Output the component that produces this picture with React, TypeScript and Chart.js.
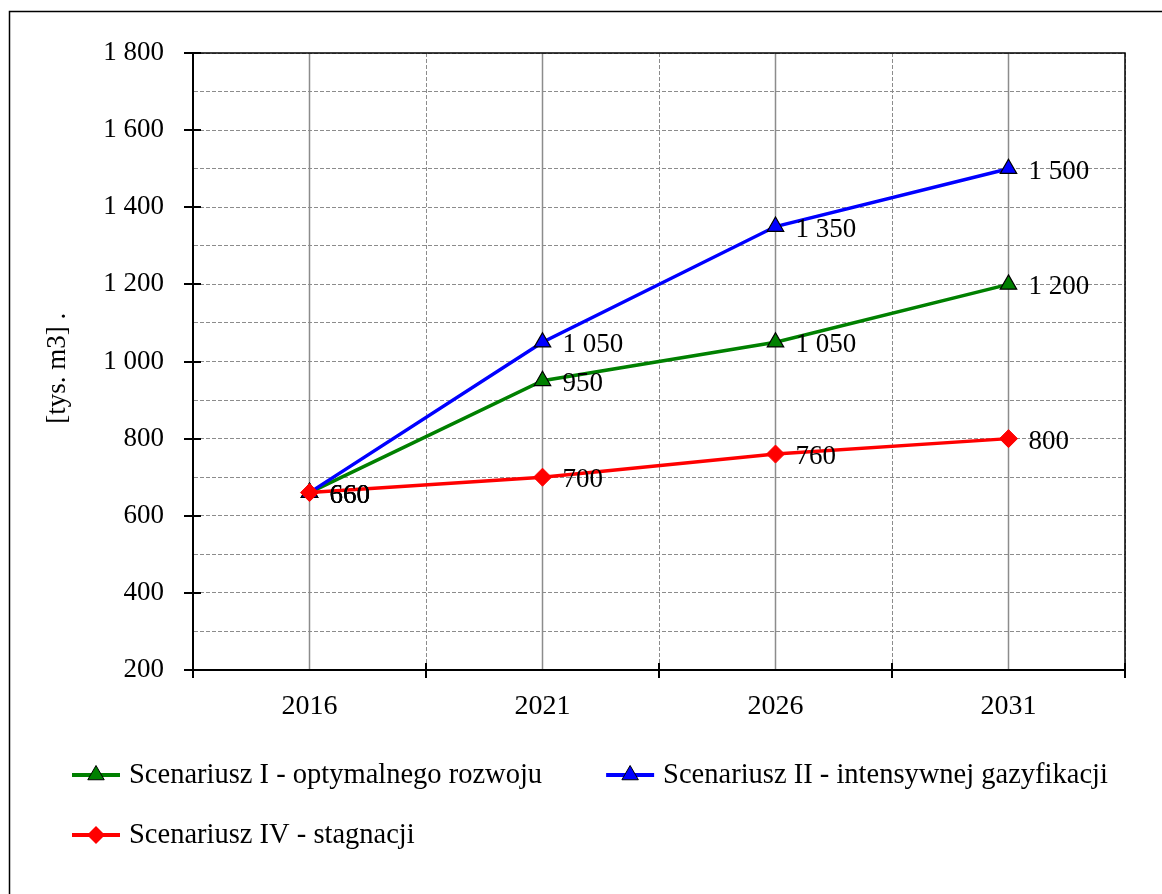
import React, { useEffect, useRef } from 'react';
import { Chart, registerables } from 'chart.js';

Chart.register(...registerables);

const years = ['2016', '2021', '2026', '2031'];
const scenario1 = [660, 950, 1050, 1200];
const scenario2 = [660, 1050, 1350, 1500];
const scenario4 = [660, 700, 760, 800];
const seriesNames = [
  'Scenariusz I - optymalnego rozwoju',
  'Scenariusz II - intensywnej gazyfikacji',
  'Scenariusz IV - stagnacji',
];
const seriesColors = ['#008000', '#0000FF', '#FF0000'];
const yMin = 200;
const yMax = 1800;
const yStep = 100;
const yLabelStep = 200;
const yTitle = '[tys. m3] .  ';

const FONT = '"Liberation Serif", "Times New Roman", serif';
const FS = 27;
const FS_X = 28;
const FS_LEG = 28.5;

const fmt = (v: number) =>
  Math.round(v)
    .toString()
    .replace(/\B(?=(\d{3})+(?!\d))/g, ' ');

function drawMarker(ctx: CanvasRenderingContext2D, style: string, x: number, y: number, color: string) {
  ctx.save();
  ctx.beginPath();
  if (style === 'triangle') {
    const r = 9.5;
    for (let k = 0; k < 3; k++) {
      const a = (k * 2 * Math.PI) / 3;
      const px = x + Math.sin(a) * r;
      const py = y - Math.cos(a) * r;
      if (k === 0) ctx.moveTo(px, py);
      else ctx.lineTo(px, py);
    }
    ctx.closePath();
    ctx.fillStyle = color;
    ctx.fill();
    ctx.lineWidth = 1;
    ctx.strokeStyle = '#000';
    ctx.stroke();
  } else {
    const r = 9;
    ctx.moveTo(x, y - r);
    ctx.lineTo(x + r, y);
    ctx.lineTo(x, y + r);
    ctx.lineTo(x - r, y);
    ctx.closePath();
    ctx.fillStyle = color;
    ctx.fill();
  }
  ctx.restore();
}

const decorPlugin = {
  id: 'decor',
  beforeDraw(chart: any) {
    const ctx = chart.ctx as CanvasRenderingContext2D;
    ctx.save();
    ctx.fillStyle = '#fff';
    ctx.fillRect(0, 0, chart.width, chart.height);
    ctx.strokeStyle = '#000';
    ctx.lineWidth = 1.5;
    ctx.strokeRect(9.5, 11.5, chart.width + 50, chart.height + 50);
    ctx.restore();
  },
  beforeDatasetsDraw(chart: any) {
    const ctx = chart.ctx as CanvasRenderingContext2D;
    const { top, bottom } = chart.chartArea;
    const xs = chart.scales.x;
    ctx.save();
    ctx.strokeStyle = '#8c8c8c';
    ctx.lineWidth = 1.5;
    years.forEach((_, i) => {
      const px = xs.getPixelForValue(i);
      ctx.beginPath();
      ctx.moveTo(px, top);
      ctx.lineTo(px, bottom);
      ctx.stroke();
    });
    ctx.restore();
  },
  afterDatasetsDraw(chart: any) {
    const ctx = chart.ctx as CanvasRenderingContext2D;
    ctx.save();
    ctx.font = `${FS}px ${FONT}`;
    ctx.fillStyle = '#000';
    ctx.textAlign = 'left';
    ctx.textBaseline = 'middle';
    chart.data.datasets.forEach((ds: any, di: number) => {
      const meta = chart.getDatasetMeta(di);
      meta.data.forEach((pt: any, i: number) => {
        ctx.fillText(fmt(ds.data[i]), pt.x + 20, pt.y + 3);
      });
    });
    ctx.restore();
  },
  afterDraw(chart: any) {
    const ctx = chart.ctx as CanvasRenderingContext2D;
    const { left, right, top, bottom } = chart.chartArea;
    const xs = chart.scales.x;
    const ys = chart.scales.y;
    ctx.save();
    // plot frame
    ctx.strokeStyle = '#000';
    ctx.lineWidth = 1.5;
    ctx.beginPath();
    ctx.moveTo(left, top);
    ctx.lineTo(right, top);
    ctx.lineTo(right, bottom);
    ctx.stroke();
    ctx.lineWidth = 2;
    ctx.beginPath();
    ctx.moveTo(left, top);
    ctx.lineTo(left, bottom);
    ctx.lineTo(right, bottom);
    ctx.stroke();
    // y tick marks
    for (let v = yMin; v <= yMax; v += yLabelStep) {
      const py = Math.round(ys.getPixelForValue(v));
      ctx.beginPath();
      ctx.moveTo(left - 9, py);
      ctx.lineTo(left + 8, py);
      ctx.stroke();
    }
    // x tick marks at category boundaries
    for (let i = 0; i <= years.length; i++) {
      const px =
        i === 0
          ? left
          : i === years.length
          ? right
          : (xs.getPixelForValue(i - 1) + xs.getPixelForValue(i)) / 2;
      ctx.beginPath();
      ctx.moveTo(px, bottom - 7);
      ctx.lineTo(px, bottom + 8);
      ctx.stroke();
    }
    // legend
    ctx.font = `${FS_LEG}px ${FONT}`;
    ctx.textAlign = 'left';
    ctx.textBaseline = 'middle';
    const styles = chart.data.datasets.map((d: any) => d.pointStyle);
    const colors = chart.data.datasets.map((d: any) => d.borderColor);
    const labels = chart.data.datasets.map((d: any) => d.label);
    const item = (x: number, y: number, k: number) => {
      ctx.strokeStyle = colors[k];
      ctx.lineWidth = 4;
      ctx.beginPath();
      ctx.moveTo(x, y);
      ctx.lineTo(x + 48, y);
      ctx.stroke();
      drawMarker(ctx, styles[k] === 'triangle' ? 'triangle' : 'diamond', x + 24, y, colors[k]);
      ctx.fillStyle = '#000';
      ctx.fillText(labels[k], x + 57, y + 1);
      return x + 57 + ctx.measureText(labels[k]).width;
    };
    const end1 = item(72, 775, 0);
    item(end1 + 64, 775, 1);
    item(72, 835, 2);
    ctx.restore();
  },
};

export default function App() {
  const ref = useRef<HTMLCanvasElement | null>(null);
  useEffect(() => {
    if (!ref.current) return;
    const chart = new Chart(ref.current, {
      type: 'line',
      data: {
        labels: years,
        datasets: [
          {
            label: seriesNames[0],
            data: scenario1,
            borderColor: seriesColors[0],
            backgroundColor: seriesColors[0],
            pointStyle: 'triangle',
            pointRadius: 9.5,
            pointBorderColor: '#000',
            pointBorderWidth: 1.2,
            borderWidth: 3.5,
            order: 2,
          },
          {
            label: seriesNames[1],
            data: scenario2,
            borderColor: seriesColors[1],
            backgroundColor: seriesColors[1],
            pointStyle: 'triangle',
            pointRadius: 9.5,
            pointBorderColor: '#000',
            pointBorderWidth: 1.2,
            borderWidth: 3.5,
            order: 1,
          },
          {
            label: seriesNames[2],
            data: scenario4,
            borderColor: seriesColors[2],
            backgroundColor: seriesColors[2],
            pointStyle: 'rectRot',
            pointRadius: 9,
            pointBorderColor: seriesColors[2],
            pointBorderWidth: 1,
            borderWidth: 3.5,
            order: 0,
          },
        ],
      },
      options: {
        animation: false,
        responsive: false,
        devicePixelRatio: 1,
        layout: { padding: { left: 0, top: 53, right: 37, bottom: 0 } },
        plugins: {
          legend: { display: false },
          tooltip: { enabled: false },
          title: { display: false },
        },
        scales: {
          x: {
            type: 'category',
            offset: true,
            grid: {
              offset: true,
              color: '#8c8c8c',
              lineWidth: 1,
              drawTicks: false,
            },
            border: { display: true, color: '#000', width: 2, dash: [4, 2] },
            ticks: {
              color: '#000',
              font: { family: FONT, size: FS_X },
              padding: 20,
              maxRotation: 0,
            },
            afterFit: (s: any) => {
              s.height = 894 - 670;
            },
          },
          y: {
            min: yMin,
            max: yMax,
            grid: { color: '#8c8c8c', lineWidth: 1, drawTicks: false },
            border: { display: true, color: '#000', width: 2, dash: [4, 2] },
            ticks: {
              stepSize: yStep,
              autoSkip: false,
              color: '#000',
              font: { family: FONT, size: FS },
              padding: 29,
              callback: (v: any) => (Number(v) % yLabelStep === 0 ? fmt(Number(v)) : ''),
            },
            title: {
              display: true,
              text: yTitle,
              color: '#000',
              font: { family: FONT, size: FS },
              padding: { top: 42, bottom: 0 },
            },
            afterFit: (s: any) => {
              s.width = 193;
            },
          },
        },
      },
      plugins: [decorPlugin],
    });
    return () => chart.destroy();
  }, []);
  return (
    <canvas
      ref={ref}
      width={1162}
      height={894}
      style={{ position: 'fixed', left: 0, top: 0, width: 1162, height: 894 }}
    />
  );
}
